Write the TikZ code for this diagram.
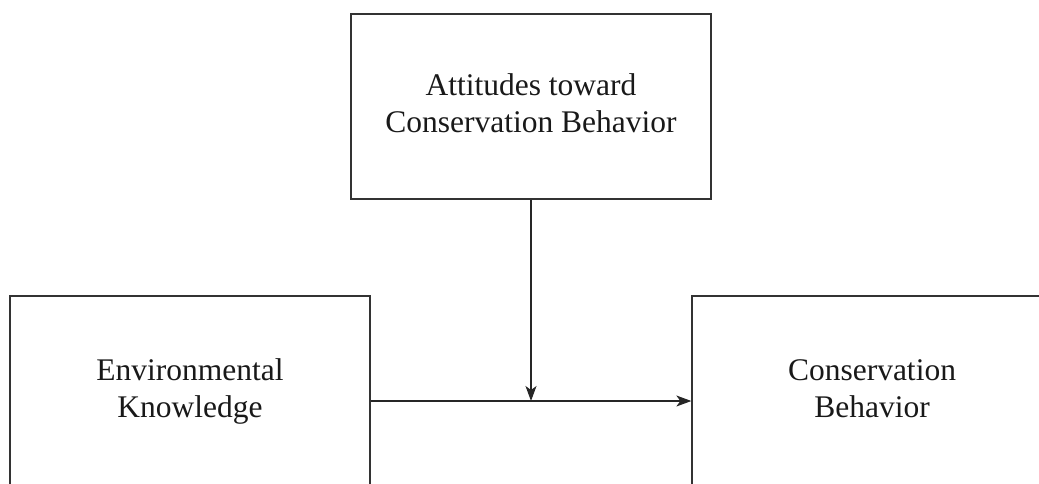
\documentclass[tikz,border=0pt]{standalone}
\usepackage{fontspec}
\setmainfont{Liberation Serif}
\usetikzlibrary{arrows.meta}
\begin{document}
\begin{tikzpicture}[x=1pt,y=-1pt,
  box/.style={draw=black!80,line width=1.3pt,minimum width=360pt,align=center,
    font=\fontsize{31.5}{37}\selectfont,text=black!90,inner sep=0pt},
  conn/.style={draw=black!85,line width=1.2pt,-{Stealth[length=15pt,width=11pt,inset=4pt]}}]
\useasboundingbox (0,0) rectangle (1039,483);
\clip (0,0) rectangle (1039,483);
\node[box,minimum height=185pt] (att) at (531,106.5) {Attitudes toward\strut\\Conservation Behavior\strut};
\node[box,minimum height=192pt] (env) at (190,392) {Environmental\strut\\Knowledge\strut};
\node[box,minimum height=192pt] (cb) at (872,392) {Conservation\strut\\Behavior\strut};
\coordinate (m) at (531,401);
\draw[conn] (env.east |- m) -- (cb.west |- m);
\draw[conn] (att.south) -- (m);
\end{tikzpicture}
\end{document}
